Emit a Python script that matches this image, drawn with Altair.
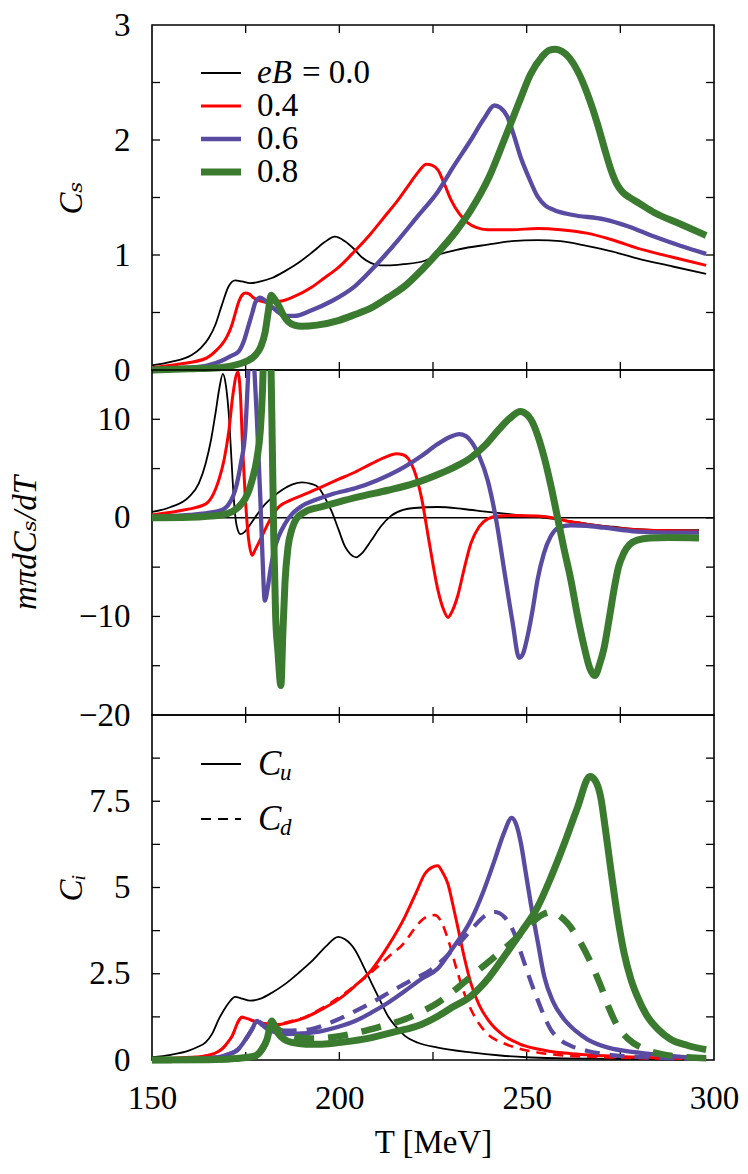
import altair as alt
import pandas as pd

# ---------------- data ----------------
# Panel 1: C_s
T_cs_0 = [150, 155, 160.6, 163, 165.2, 167, 168.6, 170.5, 172.2, 174, 176.2, 179, 182, 185.5, 189, 193, 196, 198.8, 201.5, 204, 206, 208.5, 211, 213, 217, 222.8, 226.3, 232, 239.6, 246, 252.9, 259, 266, 273, 279.5, 289, 297.9]
V_cs_0 = [0.04, 0.07, 0.13, 0.19, 0.28, 0.40, 0.56, 0.73, 0.78, 0.77, 0.755, 0.77, 0.80, 0.86, 0.93, 1.03, 1.11, 1.16, 1.12, 1.05, 0.98, 0.93, 0.91, 0.91, 0.92, 0.95, 1.0, 1.05, 1.09, 1.12, 1.13, 1.12, 1.08, 1.03, 0.97, 0.90, 0.835]
T_cs_4 = [150, 157, 164.3, 166.5, 168.6, 170, 171.3, 172.2, 173.1, 174, 174.9, 176, 177, 179, 181, 184.6, 188, 192.6, 196, 199.7, 204, 208.5, 212, 215.7, 219, 221.5, 223.2, 224.8, 226.3, 228, 229.8, 232, 234.3, 236.5, 239.6, 246, 252.9, 259, 266, 273, 279.5, 289, 297.9]
V_cs_4 = [0.02, 0.05, 0.10, 0.15, 0.22, 0.29, 0.39, 0.49, 0.59, 0.65, 0.67, 0.66, 0.63, 0.60, 0.59, 0.60, 0.64, 0.72, 0.80, 0.89, 1.03, 1.19, 1.33, 1.48, 1.63, 1.74, 1.79, 1.78, 1.74, 1.62, 1.48, 1.36, 1.28, 1.24, 1.22, 1.22, 1.23, 1.22, 1.19, 1.13, 1.06, 0.98, 0.91]
T_cs_6 = [150, 160, 165, 168.6, 171, 173.1, 174.5, 175.8, 176.8, 177.6, 178.9, 180.3, 182, 183.8, 185.6, 188, 192.6, 198, 204.2, 210, 215.7, 221, 226.3, 230.5, 235.1, 238.5, 241.4, 243, 244.9, 246.5, 248.4, 250.5, 252.9, 255, 257.4, 262, 270.7, 277, 284, 291, 297.9]
V_cs_6 = [0.01, 0.02, 0.04, 0.08, 0.12, 0.16, 0.25, 0.39, 0.50, 0.59, 0.63, 0.60, 0.55, 0.50, 0.47, 0.47, 0.52, 0.60, 0.73, 0.92, 1.13, 1.34, 1.55, 1.77, 2.0, 2.18, 2.30, 2.28, 2.2, 2.05, 1.85, 1.68, 1.51, 1.43, 1.39, 1.35, 1.31, 1.25, 1.16, 1.08, 1.01]
T_cs_8 = [150, 160, 168, 173, 175.5, 177.6, 179, 180.2, 181, 181.8, 182.6, 183.8, 185, 186.4, 188, 190, 194, 199.7, 204, 208.5, 213, 217.5, 222, 226.3, 231, 235.1, 240, 244, 248, 251, 254, 256, 257.7, 259.5, 261.5, 263.6, 266, 268.9, 271, 272.5, 274, 275.5, 277.5, 280, 284, 291, 297.9]
V_cs_8 = [0.0, 0.01, 0.02, 0.05, 0.08, 0.13, 0.20, 0.33, 0.5, 0.65, 0.62, 0.56, 0.48, 0.42, 0.39, 0.38, 0.39, 0.43, 0.48, 0.54, 0.63, 0.73, 0.87, 1.02, 1.2, 1.39, 1.68, 2.0, 2.33, 2.57, 2.72, 2.78, 2.79, 2.77, 2.71, 2.6, 2.42, 2.14, 1.9, 1.74, 1.62, 1.55, 1.5, 1.45, 1.37, 1.27, 1.17]

# Panel 2: m_pi dC_s/dT
T_d_0 = [150, 155, 159.8, 162.5, 164.3, 165.8, 166.9, 168, 168.9, 169.7, 170.5, 171.2, 171.8, 172.6, 173.6, 174.5, 175.8, 178, 180.2, 182.5, 184.6, 187.5, 190, 192.5, 194.4, 196.2, 197.9, 199.8, 201.5, 203, 204.5, 206, 208.5, 211, 213.8, 217, 220, 226.3, 233, 239.6, 246, 252.9, 260, 266.2, 273, 279.5, 288, 296]
V_d_0 = [0.6, 1.1, 2.1, 3.5, 5.5, 8, 10.5, 13.2, 14.6, 13.5, 10.5, 6, 2.1, -0.8, -1.65, -1.5, -0.9, 0.3, 1.4, 2.2, 2.8, 3.4, 3.6, 3.45, 3.1, 2.0, 0.7, -1.2, -2.9, -3.7, -4.0, -3.6, -2.3, -0.9, 0.2, 0.8, 1.0, 1.1, 0.9, 0.6, 0.35, 0.1, -0.25, -0.6, -0.9, -1.15, -1.25, -1.25]
T_d_4 = [150, 157, 164.3, 166.5, 167.8, 169.3, 170.5, 171.6, 172.9, 173.6, 174.2, 174.9, 175.6, 176.7, 177.6, 179.3, 181.5, 183.8, 187, 190.8, 195, 199.7, 204, 208.6, 212, 215.2, 217, 218.4, 220, 221.9, 224, 226.3, 227.8, 229, 230.2, 231.6, 233.3, 235.1, 237.3, 239.6, 242.5, 245.7, 252.9, 257, 261.8, 266, 270.6, 279.5, 288, 296]
V_d_4 = [0.3, 0.7, 1.4, 2.5, 3.8, 6, 8.8, 12.5, 14.8, 12.5, 7, 2.1, -1.5, -3.8, -3.2, -1.9, -0.2, 1.1, 1.8, 2.4, 3.1, 3.9, 4.6, 5.5, 6.1, 6.5, 6.4, 6.0, 4.8, 2.1, -2.5, -7.3, -9.3, -10.1, -9.4, -7.9, -5.2, -2.6, -0.9, -0.1, 0.2, 0.25, 0.2, 0.0, -0.4, -0.65, -0.9, -1.2, -1.3, -1.35]
T_d_6 = [150, 160, 165, 168.7, 171, 172.2, 173.7, 174.9, 175.6, 176.4, 177.2, 178, 178.9, 179.5, 180.1, 180.8, 181.6, 182.6, 183.8, 185.5, 187.4, 190, 193.5, 198, 204.2, 210, 217.5, 222, 226.3, 229.5, 232, 233.8, 235.1, 237.3, 239.6, 242, 244, 246.2, 248, 249, 250.3, 251.6, 252.9, 254.6, 256.4, 258.5, 261.8, 266, 270.6, 279.5, 288, 296]
V_d_6 = [0.1, 0.3, 0.5, 0.8, 1.7, 2.8, 5.5, 8.8, 14, 20, 16, 10, 2.1, -4, -8.4, -7.3, -5.3, -3.3, -1.9, -0.6, 0.4, 1.2, 1.8, 2.4, 3.0, 3.8, 5.2, 6.3, 7.5, 8.2, 8.5, 8.3, 7.8, 6.3, 3.8, -0.5, -5.3, -10.5, -14.2, -13.8, -11.9, -9.3, -6.3, -3.6, -1.9, -1.0, -0.75, -0.8, -1.0, -1.4, -1.5, -1.5]
T_d_8 = [150, 160, 168.7, 173.1, 176.7, 178, 178.9, 179.5, 180.3, 181.2, 182.0, 182.5, 183.0, 183.6, 184.4, 184.9, 185.5, 186.3, 187.3, 188.5, 190.8, 195, 199.7, 206, 213, 220, 226.3, 231, 235.1, 239, 242.2, 245.5, 248.3, 250, 251.1, 253, 254.7, 256.5, 258.2, 260, 261.8, 263.5, 265.3, 266.8, 268.2, 269.5, 270.6, 272, 273.3, 274.5, 275.9, 277.5, 279.5, 283, 288, 296]
V_d_8 = [0.0, 0.05, 0.3, 1.1, 3.8, 6, 8.8, 13, 24, 24, 10, -2, -10, -13.5, -17, -12, -6.5, -3, -1.2, -0.1, 0.6, 1.1, 1.6, 2.2, 2.8, 3.5, 4.4, 5.2, 6.1, 7.4, 8.8, 10.1, 10.8, 10.5, 10.0, 8.3, 6.1, 3.2, 0.1, -3.2, -6.3, -9.8, -13, -15.2, -16, -14.8, -13.3, -10.3, -7.3, -5.0, -3.6, -2.7, -2.25, -2.05, -2.0, -2.05]

# Panel 3: C_u (solid) and C_d (dashed)
T_u_0 = [150, 155, 159.8, 162, 164.3, 166, 167.8, 169.2, 170.5, 172.2, 174, 176.2, 179, 182, 185.5, 189.1, 193, 196.5, 199.7, 201.5, 204.2, 206.5, 208.6, 211, 213, 215, 217.5, 221, 226.3, 235.1, 243, 250, 260, 275, 297.9]
V_u_0 = [0.08, 0.15, 0.27, 0.37, 0.51, 0.75, 1.18, 1.45, 1.66, 1.83, 1.78, 1.72, 1.78, 1.95, 2.2, 2.52, 2.9, 3.3, 3.57, 3.5, 3.19, 2.7, 2.23, 1.7, 1.27, 0.98, 0.70, 0.5, 0.36, 0.22, 0.13, 0.08, 0.05, 0.03, 0.02]
T_u_4 = [150, 157, 164.3, 168.7, 170, 171.4, 173.1, 174, 175.5, 177.1, 180, 183.8, 187, 190.9, 195, 199.7, 204, 208.6, 213, 217.5, 220.5, 222.8, 225, 226.3, 227.5, 229, 230.3, 231.6, 233.3, 235.1, 237.3, 239.6, 244, 248, 252.9, 260, 266, 280, 297.9]
V_u_4 = [0.02, 0.06, 0.12, 0.32, 0.48, 0.70, 1.13, 1.23, 1.2, 1.13, 1.06, 1.03, 1.1, 1.23, 1.45, 1.75, 2.13, 2.61, 3.3, 4.15, 4.85, 5.39, 5.6, 5.63, 5.45, 5.1, 4.5, 3.86, 3.0, 2.23, 1.6, 1.18, 0.70, 0.47, 0.32, 0.2, 0.15, 0.08, 0.05]
T_dd_4 = [150, 164.3, 168.7, 171.4, 173.1, 174, 175.5, 177.1, 180, 183.8, 187, 190.9, 195, 199.7, 204, 208.6, 213, 217.5, 220, 222, 224, 225.5, 227, 229, 231.6, 233.3, 235.1, 237.3, 239.6, 244, 248, 252.9, 260, 270, 297.9]
V_dd_4 = [0.02, 0.12, 0.32, 0.70, 1.13, 1.25, 1.2, 1.13, 1.08, 1.06, 1.12, 1.25, 1.48, 1.8, 2.14, 2.55, 2.98, 3.42, 3.8, 4.05, 4.18, 4.2, 4.05, 3.5, 2.52, 1.95, 1.47, 1.05, 0.75, 0.48, 0.33, 0.22, 0.13, 0.08, 0.03]
T_u_6 = [150, 165, 170, 173.1, 175, 176.7, 178, 179, 180.2, 182.5, 185.6, 190, 195.3, 200, 204.2, 208.5, 213, 217.5, 221.9, 226.3, 230, 235.1, 238.5, 241.4, 244, 246, 247.3, 248.5, 249.8, 251.1, 253, 254.7, 257, 260, 263, 266.2, 272, 279.5, 288, 297.9]
V_u_6 = [0.0, 0.05, 0.15, 0.32, 0.6, 0.89, 1.13, 1.05, 0.94, 0.82, 0.75, 0.77, 0.84, 0.97, 1.13, 1.37, 1.66, 2.0, 2.35, 2.65, 3.2, 4.05, 4.9, 5.78, 6.6, 7.02, 6.8, 6.26, 5.4, 4.53, 3.4, 2.42, 1.7, 1.18, 0.85, 0.6, 0.35, 0.22, 0.12, 0.05]
T_dd_6 = [150, 165, 170, 173.1, 175, 176.7, 178, 179, 180.2, 183, 186, 189, 192.6, 198, 203, 208.6, 214, 219, 224.5, 230, 235.1, 238.5, 241.4, 244, 246.7, 248.5, 250.3, 252.9, 256.4, 259, 261.8, 266, 270.6, 280, 297.9]
V_dd_6 = [0.0, 0.05, 0.15, 0.32, 0.6, 0.9, 1.15, 1.08, 0.98, 0.88, 0.85, 0.86, 0.9, 1.1, 1.35, 1.66, 2.0, 2.3, 2.62, 3.15, 3.76, 4.15, 4.29, 4.15, 3.67, 3.1, 2.52, 1.75, 0.89, 0.58, 0.41, 0.27, 0.17, 0.09, 0.03]
T_u_8 = [150, 165, 172, 175.5, 177.6, 179.3, 180.7, 182, 182.8, 183.8, 185.3, 187.3, 191, 195.3, 201, 208.6, 215, 221.9, 226.3, 230, 235.1, 240, 244, 248.5, 252.9, 256.5, 260, 263.5, 266.9, 268.3, 269.8, 271, 272.5, 274.2, 276, 277.8, 279.5, 282, 285, 288.4, 293, 297.9]
V_u_8 = [0.0, 0.01, 0.04, 0.08, 0.12, 0.3, 0.6, 1.13, 0.95, 0.75, 0.6, 0.51, 0.46, 0.46, 0.52, 0.65, 0.82, 1.03, 1.27, 1.52, 1.85, 2.4, 3.0, 3.7, 4.43, 5.3, 6.26, 7.3, 8.22, 8.1, 7.6, 6.7, 5.49, 4.2, 3.1, 2.35, 1.85, 1.3, 0.9, 0.6, 0.42, 0.3]
T_dd_8 = [150, 165, 172, 175.5, 177.6, 179.3, 180.7, 182, 183, 184.5, 187, 192.6, 198, 205, 211, 217.5, 222, 226.3, 230.5, 235.1, 241, 246.7, 251, 254, 256.4, 258.5, 261, 264.5, 267, 269.8, 272, 274.2, 277, 281.3, 287, 293, 297.9]
V_dd_8 = [0.0, 0.01, 0.04, 0.08, 0.12, 0.3, 0.6, 1.1, 0.95, 0.82, 0.7, 0.62, 0.66, 0.8, 0.97, 1.18, 1.4, 1.66, 2.0, 2.42, 2.95, 3.48, 3.95, 4.2, 4.29, 4.2, 3.95, 3.38, 2.85, 2.14, 1.5, 0.99, 0.62, 0.32, 0.15, 0.08, 0.05]

# axis tick positions
x_minor = [175, 200, 225, 250, 275]
x_labels = [150, 200, 250, 300]
y1_ticks = [0.5, 1, 1.5, 2, 2.5]
y1_labels = [0, 1, 2, 3]
y2_ticks = [-15, -10, -5, 0, 5, 10]
y2_labels = [-20, -10, 0, 10]
y3_ticks = [1.25, 2.5, 3.75, 5, 6.25, 7.5, 8.75]
y3_labels = [0, 2.5, 5, 7.5]

legend_eB = ["0.0", "0.4", "0.6", "0.8"]

# ---------------- style ----------------
COL = {"0.0": "#000000", "0.4": "#ff0000", "0.6": "#5a4ba2", "0.8": "#3b7b2f"}
LW = {"0.0": 1.8, "0.4": 3.0, "0.6": 4.3, "0.8": 7.0}
LW_D = {"0.4": 2.6, "0.6": 4.2, "0.8": 6.5}
DASH = {"0.4": [10, 7], "0.6": [15, 10], "0.8": [20, 14]}
FONT = "Liberation Serif, DejaVu Serif, serif"
FS = 33
W, H = 562, 345
TL = 8  # tick length


def df(T, V):
    return pd.DataFrame({"T": T, "v": V})


def xenc(show):
    if show:
        ax = alt.Axis(values=x_labels, labels=True, ticks=False, domain=False, grid=False,
                      labelFlush=False, labelPadding=22, labelFontSize=FS, labelFont=FONT,
                      title="T  [MeV]", titleFont=FONT, titleFontSize=FS, titleFontWeight="normal",
                      titleY=82, titleBaseline="middle")
    else:
        ax = None
    return alt.X("T:Q", scale=alt.Scale(domain=[150, 300], nice=False, zero=False), axis=ax)


def yenc(dom, labels, title, tx, fmt):
    ax = alt.Axis(values=labels, ticks=False, domain=False, grid=False, format=fmt,
                  labelFlush=False, labelPadding=22, labelFontSize=FS, labelFont=FONT,
                  title=title, titleFont=FONT, titleFontSize=FS, titleFontStyle="italic",
                  titleFontWeight="normal", titleAngle=270, titleX=tx, titleY=H / 2,
                  titleAlign="center", titleBaseline="middle")
    return alt.Y("v:Q", scale=alt.Scale(domain=dom, nice=False, zero=False), axis=ax)


def tick_layers(xe, ye, yt):
    base_x = alt.Chart(pd.DataFrame({"T": x_minor}))
    base_y = alt.Chart(pd.DataFrame({"v": yt}))
    k = dict(color="black", strokeWidth=1.3)
    return [
        base_x.mark_rule(**k).encode(x=xe, y=alt.value(0), y2=alt.value(TL)),
        base_x.mark_rule(**k).encode(x=xe, y=alt.value(H - TL), y2=alt.value(H)),
        base_y.mark_rule(**k).encode(y=ye, x=alt.value(0), x2=alt.value(TL)),
        base_y.mark_rule(**k).encode(y=ye, x=alt.value(W - TL), x2=alt.value(W)),
    ]


def line(T, V, key, clip=False, dashed=False):
    kw = dict(color=COL[key], strokeWidth=(LW_D[key] if dashed else LW[key]),
              interpolate="monotone", clip=clip, strokeJoin="round")
    if dashed:
        kw["strokeDash"] = DASH[key]
    return kw, df(T, V)


# ---------- panel 1 ----------
xe1 = xenc(False)
ye1 = yenc([0, 3], y1_labels, "Cₛ", -81, "d")
layers1 = tick_layers(xe1, ye1, y1_ticks)
for T, V, k in [(T_cs_0, V_cs_0, "0.0"), (T_cs_4, V_cs_4, "0.4"), (T_cs_6, V_cs_6, "0.6"), (T_cs_8, V_cs_8, "0.8")]:
    kw, d = line(T, V, k)
    layers1.append(alt.Chart(d).mark_line(**kw).encode(x=xe1, y=ye1))

# legend panel 1
leg1 = pd.DataFrame({"eB": legend_eB})
for i, k in enumerate(legend_eB):
    yy = 48 + 33 * i
    layers1.append(alt.Chart(leg1.iloc[[i]]).mark_rule(color=COL[k], strokeWidth=LW[k]).encode(
        x=alt.value(49), x2=alt.value(89), y=alt.value(yy)))
    if i == 0:
        layers1.append(alt.Chart(leg1.iloc[[i]]).mark_text(
            text="eB", font=FONT, fontSize=FS, fontStyle="italic", align="left", baseline="middle").encode(
            x=alt.value(105), y=alt.value(yy)))
        layers1.append(alt.Chart(leg1.iloc[[i]]).mark_text(
            text="= 0.0", font=FONT, fontSize=FS, align="left", baseline="middle").encode(
            x=alt.value(150), y=alt.value(yy)))
    else:
        layers1.append(alt.Chart(leg1.iloc[[i]]).mark_text(
            font=FONT, fontSize=FS, align="left", baseline="middle").encode(
            x=alt.value(105), y=alt.value(yy), text="eB:N"))

p1 = alt.layer(*layers1).properties(width=W, height=H)

# ---------- panel 2 ----------
xe2 = xenc(False)
ye2 = yenc([-20, 15], y2_labels, "mπdCₛ/dT", -127, "d")
layers2 = tick_layers(xe2, ye2, y2_ticks)
layers2.append(alt.Chart(pd.DataFrame({"v": [0]})).mark_rule(color="black", strokeWidth=1.5).encode(y=ye2))
for T, V, k in [(T_d_0, V_d_0, "0.0"), (T_d_4, V_d_4, "0.4"), (T_d_6, V_d_6, "0.6"), (T_d_8, V_d_8, "0.8")]:
    kw, d = line(T, V, k, clip=True)
    layers2.append(alt.Chart(d).mark_line(**kw).encode(x=xe2, y=ye2))
p2 = alt.layer(*layers2).properties(width=W, height=H)

# ---------- panel 3 ----------
xe3 = xenc(True)
ye3 = yenc([0, 10], y3_labels, "Cᵢ", -81, ".1~f")
layers3 = tick_layers(xe3, ye3, y3_ticks)
series3 = [
    (T_u_0, V_u_0, "0.0", False),
    (T_u_4, V_u_4, "0.4", False), (T_dd_4, V_dd_4, "0.4", True),
    (T_u_6, V_u_6, "0.6", False), (T_dd_6, V_dd_6, "0.6", True),
    (T_u_8, V_u_8, "0.8", False), (T_dd_8, V_dd_8, "0.8", True),
]
for T, V, k, dsh in series3:
    kw, d = line(T, V, k, dashed=dsh)
    layers3.append(alt.Chart(d).mark_line(**kw).encode(x=xe3, y=ye3))

leg3 = pd.DataFrame({"sub": ["u", "d"]})
for i, (sub, dash) in enumerate([("u", None), ("d", [10, 7])]):
    yy = 49 + 55 * i
    rk = dict(color="black", strokeWidth=2)
    if dash:
        rk["strokeDash"] = dash
    layers3.append(alt.Chart(leg3.iloc[[i]]).mark_rule(**rk).encode(
        x=alt.value(49), x2=alt.value(89), y=alt.value(yy)))
    layers3.append(alt.Chart(leg3.iloc[[i]]).mark_text(
        text="C", font=FONT, fontSize=FS + 2, fontStyle="italic", align="left", baseline="middle").encode(
        x=alt.value(106), y=alt.value(yy)))
    layers3.append(alt.Chart(leg3.iloc[[i]]).mark_text(
        font=FONT, fontSize=23, fontStyle="italic", align="left", baseline="middle").encode(
        x=alt.value(128), y=alt.value(yy + 9), text="sub:N"))
p3 = alt.layer(*layers3).properties(width=W, height=H)

chart = alt.vconcat(p1, p2, p3, spacing=0, bounds="flush").properties(
    padding={"left": 0, "top": 0, "right": 0, "bottom": 0}
).configure_view(stroke="black", strokeWidth=1.6).configure_concat(spacing=0)

chart.save("out.html", embed_options={"renderer": "svg", "actions": False})
